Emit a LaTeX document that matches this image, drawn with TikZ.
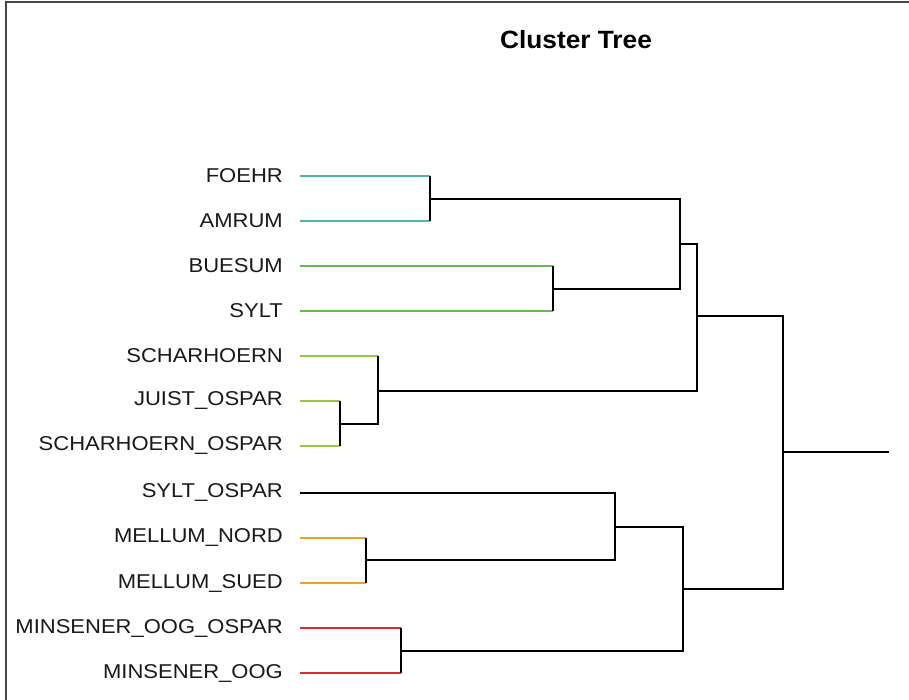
\documentclass[tikz,border=0pt]{standalone}
\usepackage{fontspec}
\setmainfont{Liberation Sans}
\newfontfamily\labelfont[FakeStretch=1.1]{Liberation Sans}
\newfontfamily\titlefont[FakeStretch=1.05]{Liberation Sans}
\definecolor{cteal}{RGB}{80,180,170}
\definecolor{cgreen}{RGB}{100,185,80}
\definecolor{cyellowgreen}{RGB}{150,200,60}
\definecolor{corange}{RGB}{230,165,40}
\definecolor{cred}{RGB}{225,40,50}
\definecolor{cframe}{RGB}{70,70,70}
\begin{document}
\begin{tikzpicture}[x=1pt,y=-1pt,
  tree/.style={draw=black,line width=2.4pt},
  leafline/.style={line width=2.4pt},
  leaflabel/.style={anchor=east,inner sep=0pt,font=\labelfont\fontsize{20}{22}\selectfont,text=black!90},
  frameline/.style={draw=cframe,line width=1.8pt}]
\useasboundingbox (0,0) rectangle (909,700);
\fill[white] (0,0) rectangle (909,700);
\draw[frameline] (6,700) -- (6,2) -- (909,2);
\node[font=\titlefont\bfseries\fontsize{25}{28}\selectfont] (title) at (576,40) {Cluster Tree};
% leaf labels
\foreach \n/\t/\y in {1/FOEHR/176,2/AMRUM/221,3/BUESUM/266,4/SYLT/311,5/SCHARHOERN/356,6/JUIST\_OSPAR/401,7/SCHARHOERN\_OSPAR/446,8/SYLT\_OSPAR/493,9/MELLUM\_NORD/538,10/MELLUM\_SUED/583,11/MINSENER\_OOG\_OSPAR/628,12/MINSENER\_OOG/673}{
  \node[leaflabel] (t\n) at (283,\y) {\t};
  \coordinate (l\n) at (300,\y);
}
% joints
\coordinate (jA) at (430,199);
\coordinate (jB) at (553,289);
\coordinate (jC) at (680,244);
\coordinate (jD) at (340,424);
\coordinate (jE) at (378,391);
\coordinate (jF) at (697,316);
\coordinate (jG) at (366,560);
\coordinate (jH) at (615,527);
\coordinate (jI) at (401,651);
\coordinate (jJ) at (683,589);
\coordinate (jK) at (783,452);
\coordinate (tail) at (889,452);
% coloured leaf branches
\draw[leafline,cteal] (l1) -- (jA |- l1);
\draw[leafline,cteal] (l2) -- (jA |- l2);
\draw[leafline,cgreen] (l3) -- (jB |- l3);
\draw[leafline,cgreen] (l4) -- (jB |- l4);
\draw[leafline,cyellowgreen] (l5) -- (jE |- l5);
\draw[leafline,cyellowgreen] (l6) -- (jD |- l6);
\draw[leafline,cyellowgreen] (l7) -- (jD |- l7);
\draw[leafline,corange] (l9) -- (jG |- l9);
\draw[leafline,corange] (l10) -- (jG |- l10);
\draw[leafline,cred] (l11) -- (jI |- l11);
\draw[leafline,cred] (l12) -- (jI |- l12);
% black joints
\draw[tree] (jA |- l1) -- (jA |- l2);
\draw[tree] (jB |- l3) -- (jB |- l4);
\draw[tree] (jD |- l6) -- (jD |- l7);
\draw[tree] (jG |- l9) -- (jG |- l10);
\draw[tree] (jI |- l11) -- (jI |- l12);
\draw[tree] (jE |- l5) -- (jE |- jD) -- (jD);
\draw[tree] (jA) -| (jC) |- (jB);
\draw[tree] (jC) -| (jF) |- (jE);
\draw[tree] (l8) -| (jH) |- (jG);
\draw[tree] (jH) -| (jJ) |- (jI);
\draw[tree] (jF) -| (jK) |- (jJ);
\draw[tree] (jK) -- (tail);
\end{tikzpicture}
\end{document}
